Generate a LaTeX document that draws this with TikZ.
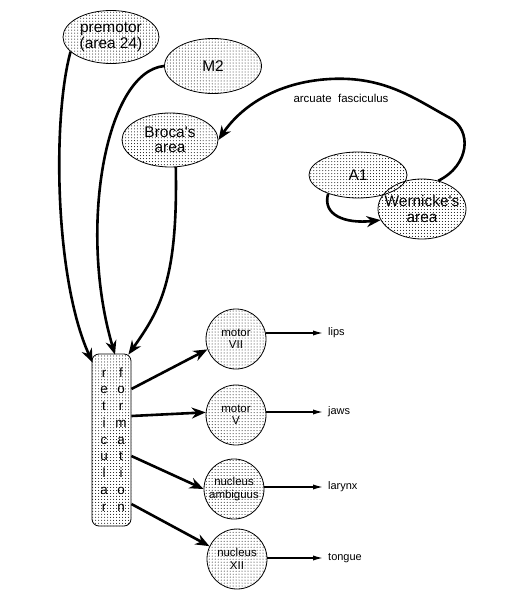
\documentclass[tikz,border=0pt]{standalone}
\usepackage{fontspec}
\setmainfont{Liberation Sans}
\usetikzlibrary{shapes.geometric,patterns,arrows.meta}

\begin{document}
\begin{tikzpicture}[x=1bp,y=-1bp,
		area/.style={ellipse, draw, line width=0.8bp, pattern=dots, minimum width=96bp, minimum height=54bp, inner sep=0pt},
		areatext/.style={align=center, font=\fontsize{15.5}{15.5}\selectfont, inner sep=0pt},
		nucleus/.style={circle, draw, line width=0.8bp, pattern=dots, minimum size=60bp, inner sep=0pt},
		nuctext/.style={align=center, font=\fontsize{11.5}{12.5}\selectfont, inner sep=0pt},
		tract/.style={line width=2.6bp, -{Stealth[length=14bp,width=11bp]}},
		nerve/.style={line width=2bp, -{Latex[length=12bp,width=5bp]}},
		target/.style={anchor=west, font=\fontsize{11}{13}\selectfont, inner sep=3bp},
		rfletter/.style={anchor=base, font=\fontsize{13.5}{14}\selectfont, inner sep=0pt}]
		\useasboundingbox (0,0) rectangle (523,610);

		\node[area, minimum height=53bp, label={[areatext]center:premotor\\(area 24)}] (premotor) at (111,37) {};
		\node[area, minimum width=97bp, minimum height=55bp, label={[areatext]center:M2}] (m2) at (213,66) {};
		\node[area, label={[areatext]center:Broca\textquotesingle s\\area}] (broca) at (170,140) {};
		\node[area, minimum width=98bp, minimum height=46bp, label={[areatext]center:A1}] (a1) at (358,175) {};
		\node[area, minimum width=88bp, minimum height=60bp, label={[areatext]center:Wernicke\textquotesingle s\\area}] (wernicke) at (422,209) {};
		\node[font=\fontsize{11.5}{13}\selectfont, inner sep=0pt] (arclabel) at (341,98) {arcuate\ \ fasciculus};

		\node[draw, rounded corners=7bp, line width=0.8bp, pattern=dots, minimum width=39bp, minimum height=172bp, inner sep=0pt] (rf) at (111.5,440) {};
		\foreach \ch [count=\i] in {r,e,t,i,c,u,l,a,r}
			\node[rfletter] (ret\i) at (104,360.3+16.75*\i) {\ch};
		\foreach \ch [count=\i] in {f,o,r,m,a,t,i,o,n}
			\node[rfletter] (form\i) at (121,360.3+16.75*\i) {\ch};

		\node[nucleus, label={[nuctext]center:motor\\VII}] (vii) at (236,339) {};
		\node[nucleus, label={[nuctext]center:motor\\V}] (v) at (236,415) {};
		\node[nucleus, label={[nuctext]center:nucleus\\ambiguus}] (amb) at (234,489) {};
		\node[nucleus, label={[nuctext]center:nucleus\\XII}] (xii) at (237,559) {};

		\node[target] (lips) at (325,333) {lips};
		\node[target] (jaws) at (325,412) {jaws};
		\node[target] (larynx) at (325,487) {larynx};
		\node[target] (tongue) at (325,558) {tongue};

		\draw[tract] (premotor.200) .. controls (52,120) and (55,280) .. ([shift={(1,9)}]rf.north west);
		\draw[tract] (m2.west) .. controls (105,72) and (78,230) .. ([shift={(3.5,1)}]rf.north);
		\draw[tract] (broca.282) .. controls (178,280) and (160,310) .. ([shift={(-3,1)}]rf.north east);
		\draw[tract] (wernicke.60) .. controls (470,165) and (472,130) .. (450,118)
			.. controls (415,99) and (385,76) .. (330,79)
			.. controls (275,82) and (240,108) .. (broca.east);
		\draw[tract] (a1.212) .. controls (322,215) and (345,224) .. (wernicke.195);

		\draw[tract] ([shift={(0,-51)}]rf.east) -- (vii.200);
		\draw[tract] ([shift={(0,-24)}]rf.east) -- (v.175);
		\draw[tract] ([shift={(0,16)}]rf.east) -- (amb.west);
		\draw[tract] ([shift={(0,64)}]rf.east) -- (xii.155);

		\draw[nerve] (vii.east |- lips.west) -- (lips.west);
		\draw[nerve] (v.east |- jaws.west) -- (jaws.west);
		\draw[nerve] (amb.east |- larynx.west) -- (larynx.west);
		\draw[nerve] (xii.east |- tongue.west) -- (tongue.west);
	\end{tikzpicture}
\end{document}
